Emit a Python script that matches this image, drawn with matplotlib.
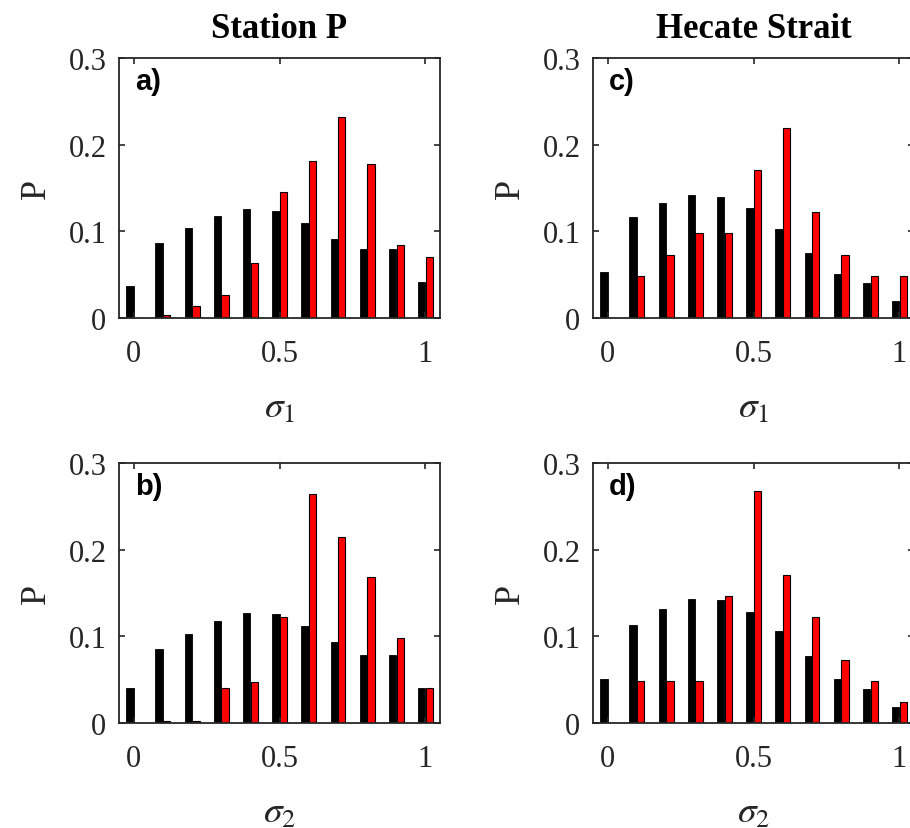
import numpy as np
import matplotlib
matplotlib.use("Agg")
import matplotlib.pyplot as plt

plt.rcParams['font.family'] = ['Liberation Serif', 'DejaVu Serif']
plt.rcParams['mathtext.fontset'] = 'stix'

# bin centres of sigma
bins = [0.0, 0.1, 0.2, 0.3, 0.4, 0.5, 0.6, 0.7, 0.8, 0.9, 1.0]

# Station P, sigma_1 (panel a)
stp_s1_black = [0.037, 0.087, 0.104, 0.118, 0.126, 0.124, 0.110, 0.091, 0.080, 0.080, 0.042]
stp_s1_red = [0.0, 0.004, 0.014, 0.026, 0.063, 0.145, 0.181, 0.232, 0.178, 0.084, 0.070]
# Station P, sigma_2 (panel b)
stp_s2_black = [0.040, 0.085, 0.103, 0.118, 0.127, 0.126, 0.112, 0.094, 0.079, 0.078, 0.040]
stp_s2_red = [0.0, 0.002, 0.002, 0.040, 0.047, 0.122, 0.264, 0.215, 0.168, 0.098, 0.040]
# Hecate Strait, sigma_1 (panel c)
hs_s1_black = [0.053, 0.116, 0.133, 0.142, 0.140, 0.127, 0.103, 0.075, 0.051, 0.040, 0.020]
hs_s1_red = [0.0, 0.049, 0.073, 0.098, 0.098, 0.171, 0.219, 0.122, 0.073, 0.049, 0.049]
# Hecate Strait, sigma_2 (panel d)
hs_s2_black = [0.051, 0.113, 0.132, 0.143, 0.142, 0.128, 0.106, 0.077, 0.051, 0.039, 0.019]
hs_s2_red = [0.0, 0.049, 0.049, 0.049, 0.146, 0.268, 0.171, 0.122, 0.073, 0.049, 0.024]

W, H = 910, 829
fig = plt.figure(figsize=(W / 100, H / 100), dpi=100)

spine_col = '#262626'
bw = 0.025


def panel(rect, black, red, letter, xlab, title=None):
    ax = fig.add_axes(rect)
    x = np.array(bins)
    ax.bar(x - bw / 2, black, width=bw, color='black', edgecolor='black', linewidth=0.6)
    ax.bar(x + bw / 2 + 0.001, red, width=bw, color='#ff0000', edgecolor='black', linewidth=0.8)
    ax.set_xlim(-0.05, 1.05)
    ax.set_ylim(0, 0.3)
    ax.set_xticks([0, 0.5, 1])
    ax.set_xticklabels(['0', '0.5', '1'])
    ax.set_yticks([0, 0.1, 0.2, 0.3])
    ax.set_yticklabels(['0', '0.1', '0.2', '0.3'])
    ax.tick_params(direction='in', length=4, width=1.2, colors=spine_col,
                   labelcolor=spine_col, labelsize=22, top=True, right=True)
    ax.tick_params(axis='x', pad=15)
    ax.tick_params(axis='y', pad=9)
    for s in ax.spines.values():
        s.set_color(spine_col)
        s.set_linewidth(1.3)
    ax.set_xlabel(xlab, fontsize=27, color=spine_col, labelpad=16)
    ax.set_ylabel('P', fontsize=26, color=spine_col, labelpad=11)
    ax.text(0.05, 0.965, letter, transform=ax.transAxes, ha='left', va='top',
            fontsize=21, fontweight='bold', family=['Liberation Sans', 'DejaVu Sans'])
    if title:
        ax.set_title(title, fontsize=25, fontweight='bold', pad=15)
    return ax


lx, rx = 119 / W, 593 / W
aw = 321 / W
top_b, bot_b = (H - 319) / H, (H - 724) / H
ah = 260 / H

panel([lx, top_b, aw, ah], stp_s1_black, stp_s1_red, 'a)', r'$\sigma_1$', 'Station P')
panel([lx, bot_b, aw, ah], stp_s2_black, stp_s2_red, 'b)', r'$\sigma_2$')
panel([rx, top_b, aw, ah], hs_s1_black, hs_s1_red, 'c)', r'$\sigma_1$', 'Hecate Strait')
panel([rx, bot_b, aw, ah], hs_s2_black, hs_s2_red, 'd)', r'$\sigma_2$')

fig.savefig('out.png', dpi=100)
